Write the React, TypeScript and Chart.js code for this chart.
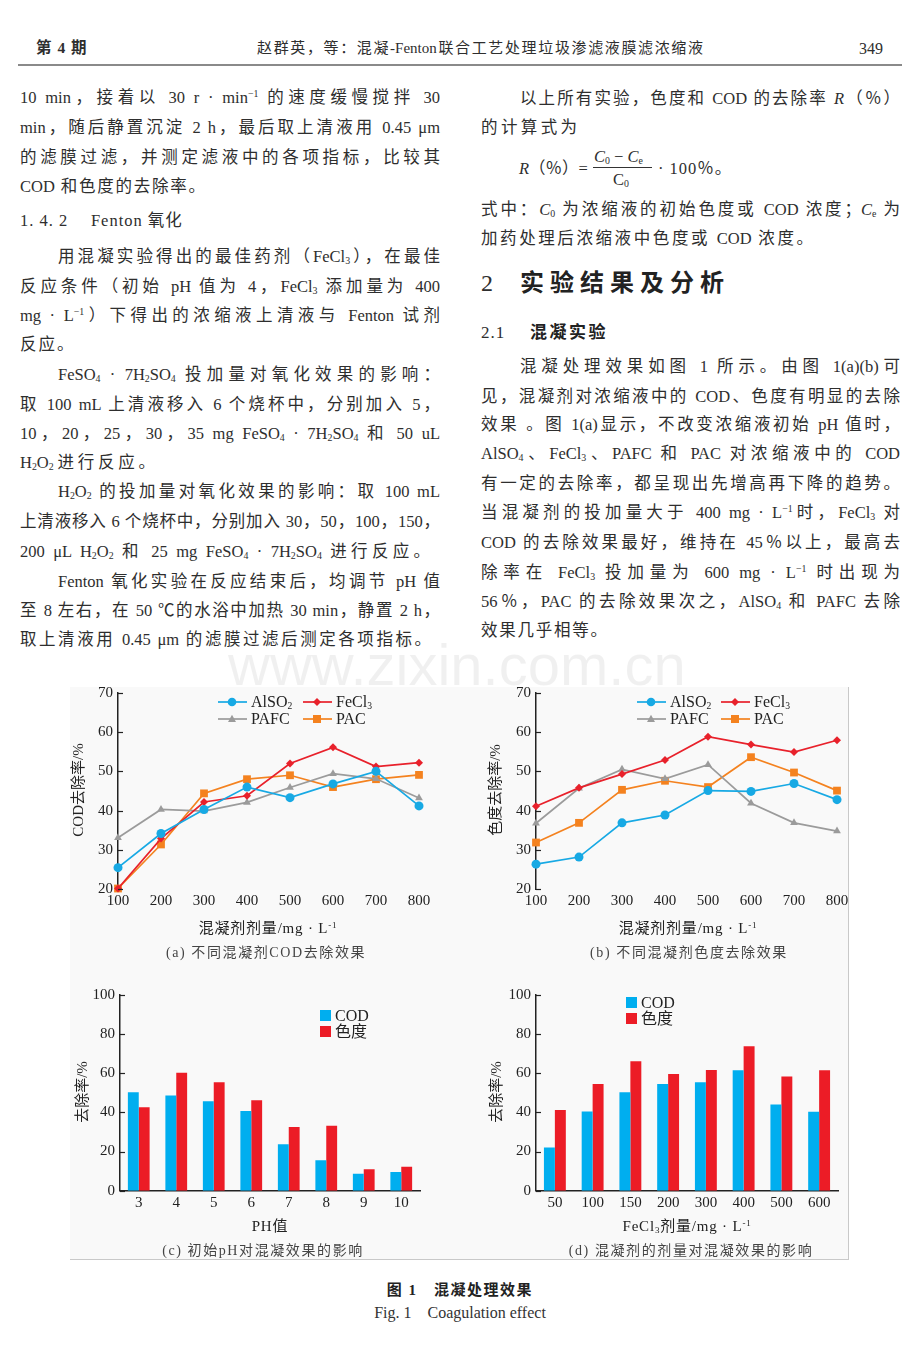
import React, { useEffect, useRef } from "react";
import { Chart, registerables } from "chart.js";

Chart.register(...registerables);

// ---------- data ----------
const doseLabels = ["100", "200", "300", "400", "500", "600", "700", "800"];
const codAlSO = [25.5, 34.2, 40.3, 46.0, 43.3, 46.8, 50.0, 41.2];
const codFeCl = [20.2, 32.9, 42.2, 43.8, 52.0, 56.1, 51.2, 52.2];
const codPAFC = [33.1, 40.3, 39.9, 42.1, 45.9, 49.4, 48.1, 43.2];
const codPAC = [20.2, 31.4, 44.4, 48.0, 49.0, 46.0, 48.0, 49.1];

const colAlSO = [26.4, 28.2, 36.9, 38.9, 45.1, 44.9, 46.9, 42.8];
const colFeCl = [41.1, 45.8, 49.3, 52.9, 58.8, 56.8, 54.9, 57.9];
const colPAFC = [36.8, 45.7, 50.5, 48.1, 51.7, 41.9, 36.9, 34.8];
const colPAC = [31.9, 36.9, 45.3, 47.6, 46.0, 53.6, 49.7, 45.1];

const phLabels = ["3", "4", "5", "6", "7", "8", "9", "10"];
const phCOD = [50.3, 48.6, 45.7, 40.7, 23.7, 15.5, 8.7, 9.5];
const phColor = [42.6, 60.3, 55.4, 46.2, 32.5, 33.2, 10.9, 12.3];

const fecl3Labels = ["50", "100", "150", "200", "300", "400", "500", "600"];
const doseCOD = [22.1, 40.5, 50.3, 54.5, 55.4, 61.5, 44.0, 40.4];
const doseColor = [41.2, 54.5, 66.1, 59.6, 61.7, 73.8, 58.4, 61.5];

const lineYRange = [20, 70, 10];
const barYRange = [0, 100, 20];

// ---------- styles ----------
const C_BLUE = "#17a9e4";
const C_RED = "#e8212b";
const C_GRAY = "#9b9b9b";
const C_ORANGE = "#f4821f";
const B_BLUE = "#00aeef";
const B_RED = "#ec1c26";
const SERIF = '"Liberation Serif", "Noto Sans CJK SC", serif';
const TICK_FONT = { family: '"Liberation Serif", serif', size: 15 };
const TEXT = "#2e2e2e";

const inwardTicks = {
  id: "inwardTicks",
  afterDraw(chart: any) {
    const ys = chart.scales.y;
    const ctx = chart.ctx;
    const x0 = chart.chartArea.left;
    ctx.save();
    ctx.strokeStyle = "#222";
    ctx.lineWidth = 1.2;
    ys.ticks.forEach((t: any) => {
      const py = Math.round(ys.getPixelForValue(t.value)) + 0.5;
      ctx.beginPath();
      ctx.moveTo(x0, py);
      ctx.lineTo(x0 + 5, py);
      ctx.stroke();
    });
    ctx.restore();
  },
};

function baseOptions(yW: number, xH: number, padTop: number, padRight: number, yr: number[], xBorder: boolean, offset: boolean) {
  return {
    responsive: false,
    animation: false,
    devicePixelRatio: 1,
    layout: { padding: { top: padTop, right: padRight, left: 0, bottom: 0 } },
    plugins: { legend: { display: false }, tooltip: { enabled: false } },
    scales: {
      x: {
        type: "category",
        offset,
        grid: { display: false, drawTicks: false, tickLength: 0 },
        border: { display: xBorder, color: "#222", width: 1.5 },
        ticks: { font: TICK_FONT, color: "#222", padding: 3, autoSkip: false, maxRotation: 0, minRotation: 0 },
        afterFit: (s: any) => {
          s.height = xH;
          s.paddingLeft = 0;
          s.paddingRight = 0;
        },
      },
      y: {
        min: yr[0],
        max: yr[1],
        grid: { display: false, drawTicks: false, tickLength: 0 },
        border: { display: true, color: "#222", width: 1.5 },
        ticks: { stepSize: yr[2], font: TICK_FONT, color: "#222", padding: 5 },
        afterFit: (s: any) => {
          s.width = yW;
          s.paddingTop = 0;
          s.paddingBottom = 0;
        },
      },
    },
  };
}

function lineConfig(a: number[], f: number[], p: number[], q: number[], yW: number, padRight: number) {
  const mk = (label: string, data: number[], color: string, style: string, r: number) => ({
    label,
    data,
    borderColor: color,
    backgroundColor: color,
    pointBackgroundColor: color,
    pointBorderColor: color,
    pointBorderWidth: 0,
    pointStyle: style,
    pointRadius: r,
    borderWidth: 1.7,
    tension: 0,
    fill: false,
    clip: false,
  });
  return {
    type: "line",
    data: {
      labels: doseLabels,
      datasets: [
        mk("AlSO2", a, C_BLUE, "circle", 4.5),
        mk("FeCl3", f, C_RED, "rectRot", 4),
        mk("PAFC", p, C_GRAY, "triangle", 4.5),
        mk("PAC", q, C_ORANGE, "rect", 5.5),
      ],
    },
    options: baseOptions(yW, 28.7, 10.7, padRight, lineYRange, false, false),
    plugins: [inwardTicks],
  };
}

function barConfig(labels: string[], cod: number[], col: number[], yW: number, padRight: number) {
  return {
    type: "bar",
    data: {
      labels,
      datasets: [
        { label: "COD", data: cod, backgroundColor: B_BLUE, borderWidth: 0, categoryPercentage: 0.58, barPercentage: 1 },
        { label: "色度", data: col, backgroundColor: B_RED, borderWidth: 0, categoryPercentage: 0.58, barPercentage: 1 },
      ],
    },
    options: baseOptions(yW, 26.3, 10, padRight, barYRange, true, true),
    plugins: [inwardTicks],
  };
}

function ChartCanvas({ left, top, width, height, make }: any) {
  const ref = useRef<HTMLCanvasElement | null>(null);
  useEffect(() => {
    const c = new Chart(ref.current as HTMLCanvasElement, make());
    return () => c.destroy();
  }, []);
  return <canvas ref={ref} width={width} height={height} style={{ position: "absolute", left, top, width, height }} />;
}

// ---------- text helpers ----------
const subS: React.CSSProperties = { fontSize: "0.6em", verticalAlign: "-0.25em", lineHeight: 0 };
const supS: React.CSSProperties = { fontSize: "0.6em", verticalAlign: "0.6em", lineHeight: 0 };
const Sb = ({ children }: any) => <sub style={subS}>{children}</sub>;
const Sp = ({ children }: any) => <sup style={supS}>{children}</sup>;

function L({ x, y, r, children, style }: any) {
  return (
    <div
      style={{
        position: "absolute",
        left: x,
        top: y - 15,
        width: r - x,
        height: 30,
        lineHeight: "30px",
        fontSize: 16.5,
        textAlign: "justify",
        textAlignLast: "justify",
        ...style,
      }}
    >
      {children}
    </div>
  );
}

function Abs({ x, y, children, style, center }: any) {
  return (
    <div
      style={{
        position: "absolute",
        left: center ? x - 200 : x,
        width: center ? 400 : undefined,
        textAlign: center ? "center" : "left",
        top: y - 12,
        height: 24,
        lineHeight: "24px",
        whiteSpace: "nowrap",
        ...style,
      }}
    >
      {children}
    </div>
  );
}

function Marker({ shape, color }: any) {
  let m: any = null;
  if (shape === "circle") m = <circle cx={14} cy={6} r={4.3} fill={color} />;
  if (shape === "diamond") m = <polygon points="14,2 18,6 14,10 10,6" fill={color} />;
  if (shape === "triangle") m = <polygon points="14,1.8 18,9 10,9" fill={color} />;
  if (shape === "square") m = <rect x={10} y={2} width={8} height={8} fill={color} />;
  return (
    <svg width={29} height={12} style={{ position: "absolute", left: 0, top: 0 }}>
      <line x1={0} y1={6} x2={29} y2={6} stroke={color} strokeWidth={1.7} />
      {m}
    </svg>
  );
}

function LegItem({ x, y, shape, color, children }: any) {
  return (
    <div style={{ position: "absolute", left: x, top: y - 6, height: 12 }}>
      <Marker shape={shape} color={color} />
      <div style={{ position: "absolute", left: 33, top: -6, lineHeight: "24px", height: 24, whiteSpace: "nowrap", fontSize: 16, fontFamily: SERIF, color: "#222" }}>
        {children}
      </div>
    </div>
  );
}

function BarLeg({ x, y, color, children }: any) {
  return (
    <div style={{ position: "absolute", left: x, top: y - 6 }}>
      <div style={{ position: "absolute", left: 0, top: 0, width: 11, height: 11, background: color }} />
      <div style={{ position: "absolute", left: 15, top: -6, lineHeight: "24px", whiteSpace: "nowrap", fontSize: 16, fontFamily: SERIF, color: "#222" }}>
        {children}
      </div>
    </div>
  );
}

function YTitle({ x, y, children }: any) {
  return (
    <div
      style={{
        position: "absolute",
        left: x - 100,
        top: y - 12,
        width: 200,
        height: 24,
        lineHeight: "24px",
        textAlign: "center",
        transform: "rotate(-90deg)",
        fontSize: 15,
        fontFamily: SERIF,
        color: "#222",
        whiteSpace: "nowrap",
      }}
    >
      {children}
    </div>
  );
}

const capStyle: React.CSSProperties = { fontSize: 14, letterSpacing: 1.6, color: "#444" };
const xtStyle: React.CSSProperties = { fontSize: 15, letterSpacing: 0.8, color: "#222" };

export default function App() {
  return (
    <div
      style={{
        position: "absolute",
        left: 0,
        top: 0,
        width: 920,
        height: 1363,
        overflow: "hidden",
        background: "#fff",
        fontFamily: SERIF,
        color: TEXT,
      }}
    >
      {/* watermark */}
      <div
        style={{
          position: "absolute",
          left: 228,
          top: 630,
          fontFamily: '"Liberation Sans", sans-serif',
          fontSize: 58,
          lineHeight: "70px",
          color: "rgba(0,0,0,0.06)",
          whiteSpace: "nowrap",
        }}
      >
        www.zixin.com.cn
      </div>

      {/* header */}
      <Abs x={36} y={48} style={{ fontSize: 15.5, fontWeight: 600, letterSpacing: 1 }}>第 4 期</Abs>
      <L x={257} y={48} r={703} style={{ fontSize: 15 }}>赵群英，等：混凝-Fenton联合工艺处理垃圾渗滤液膜滤浓缩液</L>
      <Abs x={859} y={49} style={{ fontSize: 16 }}>349</Abs>
      <div style={{ position: "absolute", left: 18, top: 64, width: 884, height: 2, background: "#8a8a8a" }} />

      {/* left column */}
      <L x={20} y={98} r={440}>10 min，接着以 30 r · min<Sp>−1</Sp> 的速度缓慢搅拌 30</L>
      <L x={20} y={128} r={440}>min，随后静置沉淀 2 h，最后取上清液用 0.45 μm</L>
      <L x={20} y={158} r={440}>的滤膜过滤，并测定滤液中的各项指标，比较其</L>
      <L x={20} y={187} r={205}>COD 和色度的去除率。</L>
      <Abs x={20} y={221} style={{ fontSize: 16.5, letterSpacing: 1 }}>1. 4. 2　 Fenton 氧化</Abs>
      <L x={58} y={257} r={440}>用混凝实验得出的最佳药剂（FeCl<Sb>3</Sb>），在最佳</L>
      <L x={20} y={287} r={440}>反应条件（初始 pH 值为 4，FeCl<Sb>3</Sb> 添加量为 400</L>
      <L x={20} y={316} r={440}>mg · L<Sp>−1</Sp>）下得出的浓缩液上清液与 Fenton 试剂</L>
      <Abs x={20} y={345} style={{ fontSize: 16.5, letterSpacing: 2 }}>反应。</Abs>
      <L x={58} y={375} r={440}>FeSO<Sb>4</Sb> · 7H<Sb>2</Sb>SO<Sb>4</Sb> 投加量对氧化效果的影响：</L>
      <L x={20} y={405} r={440}>取 100 mL 上清液移入 6 个烧杯中，分别加入 5，</L>
      <L x={20} y={434} r={440}>10，20，25，30，35 mg FeSO<Sb>4</Sb> · 7H<Sb>2</Sb>SO<Sb>4</Sb> 和 50 uL</L>
      <L x={20} y={463} r={155}>H<Sb>2</Sb>O<Sb>2</Sb>进行反应。</L>
      <L x={58} y={492} r={440}>H<Sb>2</Sb>O<Sb>2</Sb> 的投加量对氧化效果的影响：取 100 mL</L>
      <L x={20} y={522} r={440}>上清液移入 6 个烧杯中，分别加入 30，50，100，150，</L>
      <L x={20} y={552} r={430}>200 μL H<Sb>2</Sb>O<Sb>2</Sb> 和 25 mg FeSO<Sb>4</Sb> · 7H<Sb>2</Sb>SO<Sb>4</Sb> 进行反应。</L>
      <L x={58} y={582} r={440}>Fenton 氧化实验在反应结束后，均调节 pH 值</L>
      <L x={20} y={611} r={440}>至 8 左右，在 50 ℃的水浴中加热 30 min，静置 2 h，</L>
      <L x={20} y={640} r={431}>取上清液用 0.45 μm 的滤膜过滤后测定各项指标。</L>

      {/* right column */}
      <L x={520} y={99} r={900}>以上所有实验，色度和 COD 的去除率 <i>R</i>（％）</L>
      <L x={481} y={128} r={577}>的计算式为</L>
      <Abs x={519} y={169} style={{ fontSize: 16.5 }}><i>R</i>（％）=</Abs>
      <Abs x={594} y={157} style={{ fontSize: 16.5 }}><i>C</i><Sb>0</Sb> − <i>C</i><Sb>e</Sb></Abs>
      <div style={{ position: "absolute", left: 593, top: 167, width: 59, height: 1, background: "#333" }} />
      <Abs x={613} y={180} style={{ fontSize: 16.5 }}>C<Sb>0</Sb></Abs>
      <Abs x={658} y={169} style={{ fontSize: 16.5, letterSpacing: 1 }}>· 100％。</Abs>
      <L x={481} y={210} r={900}>式中：<i>C</i><Sb>0</Sb> 为浓缩液的初始色度或 COD 浓度；<i>C</i><Sb>e</Sb> 为</L>
      <L x={481} y={239} r={813}>加药处理后浓缩液中色度或 COD 浓度。</L>
      <Abs x={481} y={283} style={{ fontSize: 24 }}>2</Abs>
      <Abs x={520} y={283} style={{ fontSize: 24, fontWeight: 700, letterSpacing: 6, color: "#222" }}>实验结果及分析</Abs>
      <Abs x={481} y={333} style={{ fontSize: 17, letterSpacing: 1 }}>2.1</Abs>
      <Abs x={530} y={333} style={{ fontSize: 17, fontWeight: 700, letterSpacing: 2.5, color: "#222" }}>混凝实验</Abs>
      <L x={520} y={367} r={900}>混凝处理效果如图 1 所示。由图 1(a)(b)可</L>
      <L x={481} y={397} r={900}>见，混凝剂对浓缩液中的 COD、色度有明显的去除</L>
      <L x={481} y={425} r={900}>效果 。图 1(a)显示，不改变浓缩液初始 pH 值时，</L>
      <L x={481} y={454} r={900}>AlSO<Sb>4</Sb>、FeCl<Sb>3</Sb>、PAFC 和 PAC 对浓缩液中的 COD</L>
      <L x={481} y={484} r={900}>有一定的去除率，都呈现出先增高再下降的趋势。</L>
      <L x={481} y={513} r={900}>当混凝剂的投加量大于 400 mg · L<Sp>−1</Sp>时，FeCl<Sb>3</Sb> 对</L>
      <L x={481} y={543} r={900}>COD 的去除效果最好，维持在 45％以上，最高去</L>
      <L x={481} y={573} r={900}>除率在 FeCl<Sb>3</Sb> 投加量为 600 mg · L<Sp>−1</Sp> 时出现为</L>
      <L x={481} y={602} r={900}>56％，PAC 的去除效果次之，AlSO<Sb>4</Sb> 和 PAFC 去除</L>
      <L x={481} y={631} r={607}>效果几乎相等。</L>

      {/* figure panel */}
      <div
        style={{
          position: "absolute",
          left: 70,
          top: 687,
          width: 779,
          height: 573,
          boxSizing: "border-box",
          background: "#f9f9f9",
          borderRight: "1px solid #c9c9c9",
          borderBottom: "1px solid #c9c9c9",
        }}
      />

      {/* chart a */}
      <ChartCanvas left={70} top={682} width={380} height={236} make={() => lineConfig(codAlSO, codFeCl, codPAFC, codPAC, 48, 31)} />
      <LegItem x={218} y={702} shape="circle" color={C_BLUE}>AlSO<Sb>2</Sb></LegItem>
      <LegItem x={303} y={702} shape="diamond" color={C_RED}>FeCl<Sb>3</Sb></LegItem>
      <LegItem x={218} y={719} shape="triangle" color={C_GRAY}>PAFC</LegItem>
      <LegItem x={303} y={719} shape="square" color={C_ORANGE}>PAC</LegItem>
      <YTitle x={78} y={790}>COD去除率/%</YTitle>
      <Abs x={268} y={928} center style={xtStyle}>混凝剂剂量/mg · L<Sp>-1</Sp></Abs>
      <Abs x={266} y={953} center style={capStyle}>(a) 不同混凝剂COD去除效果</Abs>

      {/* chart b */}
      <ChartCanvas left={480} top={682} width={380} height={236} make={() => lineConfig(colAlSO, colFeCl, colPAFC, colPAC, 56, 23)} />
      <LegItem x={637} y={702} shape="circle" color={C_BLUE}>AlSO<Sb>2</Sb></LegItem>
      <LegItem x={721} y={702} shape="diamond" color={C_RED}>FeCl<Sb>3</Sb></LegItem>
      <LegItem x={637} y={719} shape="triangle" color={C_GRAY}>PAFC</LegItem>
      <LegItem x={721} y={719} shape="square" color={C_ORANGE}>PAC</LegItem>
      <YTitle x={495} y={790}>色度去除率/%</YTitle>
      <Abs x={688} y={928} center style={xtStyle}>混凝剂剂量/mg · L<Sp>-1</Sp></Abs>
      <Abs x={689} y={953} center style={capStyle}>(b) 不同混凝剂色度去除效果</Abs>

      {/* chart c */}
      <ChartCanvas left={70} top={985} width={380} height={232} make={() => barConfig(phLabels, phCOD, phColor, 50, 30)} />
      <BarLeg x={320} y={1016} color={B_BLUE}>COD</BarLeg>
      <BarLeg x={320} y={1032} color={B_RED}>色度</BarLeg>
      <YTitle x={82} y={1092}>去除率/%</YTitle>
      <Abs x={270} y={1226} center style={xtStyle}>PH值</Abs>
      <Abs x={263} y={1251} center style={capStyle}>(c) 初始pH对混凝效果的影响</Abs>

      {/* chart d */}
      <ChartCanvas left={480} top={985} width={380} height={232} make={() => barConfig(fecl3Labels, doseCOD, doseColor, 56, 22)} />
      <BarLeg x={626} y={1003} color={B_BLUE}>COD</BarLeg>
      <BarLeg x={626} y={1019} color={B_RED}>色度</BarLeg>
      <YTitle x={496} y={1092}>去除率/%</YTitle>
      <Abs x={687} y={1226} center style={xtStyle}>FeCl<Sb>3</Sb>剂量/mg · L<Sp>-1</Sp></Abs>
      <Abs x={691} y={1251} center style={capStyle}>(d) 混凝剂的剂量对混凝效果的影响</Abs>

      {/* figure caption */}
      <Abs x={460} y={1290} center style={{ fontSize: 15, fontWeight: 700, letterSpacing: 1.5, color: "#222" }}>图 1　混凝处理效果</Abs>
      <Abs x={460} y={1313} center style={{ fontSize: 16, color: "#333" }}>Fig. 1　Coagulation effect</Abs>
    </div>
  );
}
